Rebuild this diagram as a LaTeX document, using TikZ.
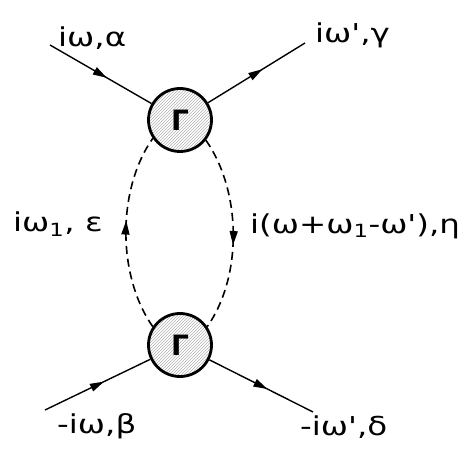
\documentclass[tikz,border=0pt]{standalone}
\usepackage{fontspec}
\usetikzlibrary{decorations.markings,arrows.meta,patterns}
\newfontfamily\hand[FakeStretch=1.25]{DejaVu Sans}
\newfontfamily\vtxfont{DejaVu Sans}

\begin{document}
\begin{tikzpicture}[x=1pt, y=1pt,
  vertex/.style={circle, draw, line width=2.8pt, minimum size=63pt, inner sep=0pt,
    pattern=north east lines, pattern color=gray!60,
    font=\vtxfont\bfseries\fontsize{28}{28}\selectfont},
  leg/.style={line width=1.4pt},
  loop/.style={line width=1.6pt, dash pattern=on 8pt off 5pt},
  midarrow/.style={postaction={decorate}, decoration={markings,
    mark=at position 0.56 with {\arrow{Triangle[length=14pt,width=8pt]}}}},
  lbl/.style={anchor=base west, inner sep=0pt, font=\hand\fontsize{26}{28}\selectfont}]
  \useasboundingbox (0,0) rectangle (467,451);

  % Vertices
  \node[vertex] (top) at (180,331) {Γ};
  \node[vertex] (bot) at (180,106) {Γ};

  % External legs
  \coordinate (inA) at (50,406);
  \coordinate (outG) at (305,408);
  \coordinate (inB) at (45,41);
  \coordinate (outD) at (313,39);

  \draw[leg, midarrow] (inA) -- (top);
  \draw[leg, midarrow] (top) -- (outG);
  \draw[leg, midarrow] (inB) -- (bot);
  \draw[leg, midarrow] (bot) -- (outD);

  % Dashed loop
  \draw[loop, midarrow] (bot.146) to[out=125, in=235, looseness=0.85] (top.214);
  \draw[loop, midarrow] (top.-38) to[out=-55, in=55, looseness=0.85] (bot.34);

  % Labels
  \node[lbl] (lA) at (58,404) {iω,α};
  \node[lbl] (lG) at (315,408) {iω',γ};
  \node[lbl] (lE) at (13,219) {iω\textsubscript{1}, ε};
  \node[lbl] (lH) at (250,218) {i(ω+ω\textsubscript{1}-ω'),η};
  \node[lbl] (lB) at (57,18) {-iω,β};
  \node[lbl] (lD) at (300,16) {-iω',δ};
\end{tikzpicture}
\end{document}
